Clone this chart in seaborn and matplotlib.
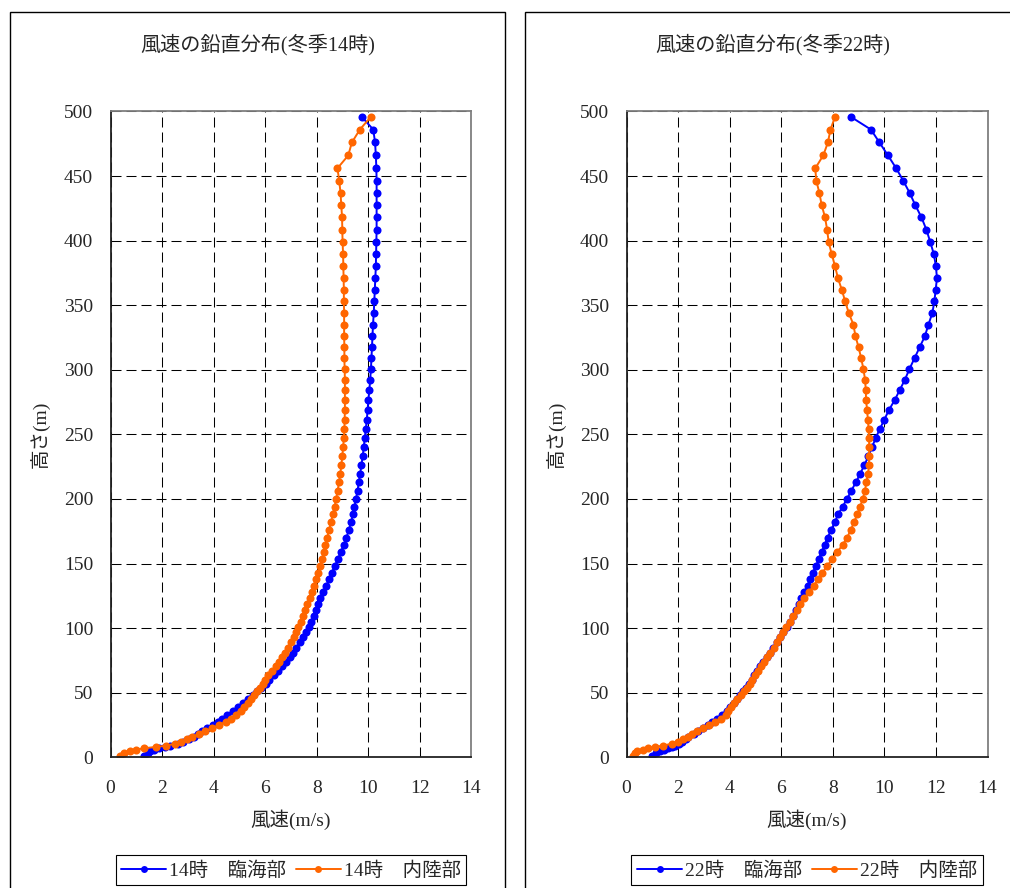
import numpy as np
import pandas as pd
import seaborn as sns
import matplotlib
matplotlib.use("Agg")
import matplotlib.pyplot as plt
from matplotlib.lines import Line2D
from matplotlib.patches import Rectangle

# ---------------- data ----------------
heights = [1, 3, 4.5, 6, 7, 8, 9, 10.5, 12, 14,
           16, 18, 20, 22.5, 25, 27.5, 30, 33, 36, 39,
           42, 45, 48, 51, 54, 57, 60, 63.5, 67, 70.5,
           74, 77.5, 81, 85, 89, 93, 97, 101, 105, 109.5,
           114, 118.5, 123, 128, 133, 138, 143, 148, 153.5, 159,
           164.5, 170, 176, 182, 188, 194, 200, 206.5, 213, 219.5,
           226, 233, 240, 247, 254, 261.5, 269, 276.5, 284.5, 292.5,
           300.5, 309, 317.5, 326, 335, 344, 353, 362, 371, 380,
           389.5, 399, 408.5, 418, 427.5, 437, 446.5, 456, 466, 476,
           486, 496]

# 14時 臨海部 (left, blue)
speed_14_coast = [1.3, 1.45, 1.55, 1.68, 1.88, 2.1, 2.3, 2.6, 2.82, 3.05,
                  3.25, 3.4, 3.56, 3.76, 3.98, 4.16, 4.33, 4.53, 4.74, 4.96,
                  5.14, 5.34, 5.52, 5.68, 5.85, 6.02, 6.16, 6.33, 6.49, 6.65,
                  6.8, 6.95, 7.08, 7.21, 7.34, 7.46, 7.57, 7.68, 7.78, 7.88,
                  7.96, 8.05, 8.14, 8.25, 8.37, 8.48, 8.58, 8.7, 8.82, 8.93,
                  9.05, 9.15, 9.24, 9.33, 9.4, 9.46, 9.52, 9.58, 9.63, 9.68,
                  9.73, 9.78, 9.82, 9.86, 9.9, 9.94, 9.97, 10.0, 10.04, 10.07,
                  10.1, 10.12, 10.14, 10.16, 10.18, 10.21, 10.23, 10.25, 10.27, 10.29,
                  10.3, 10.31, 10.32, 10.32, 10.32, 10.32, 10.32, 10.31, 10.29, 10.26,
                  10.19, 9.74]

# 14時 内陸部 (left, orange)
speed_14_inland = [0.37, 0.52, 0.74, 1.0, 1.3, 1.75, 2.15, 2.5, 2.72, 2.95,
                   3.18, 3.42, 3.66, 3.95, 4.22, 4.46, 4.68, 4.87, 5.05, 5.18,
                   5.32, 5.45, 5.58, 5.7, 5.8, 5.9, 5.98, 6.12, 6.28, 6.42,
                   6.55, 6.67, 6.78, 6.88, 6.99, 7.1, 7.2, 7.28, 7.37, 7.46,
                   7.54, 7.63, 7.72, 7.8, 7.88, 7.96, 8.04, 8.12, 8.2, 8.27,
                   8.33, 8.4, 8.48, 8.55, 8.62, 8.69, 8.75, 8.81, 8.86, 8.91,
                   8.95, 8.99, 9.02, 9.05, 9.07, 9.08, 9.09, 9.09, 9.09, 9.09,
                   9.08, 9.07, 9.07, 9.06, 9.06, 9.06, 9.05, 9.05, 9.04, 9.03,
                   9.02, 9.0, 8.99, 8.98, 8.95, 8.92, 8.87, 8.8, 9.22, 9.36,
                   9.67, 10.1]

# 22時 臨海部 (right, blue)
speed_22_coast = [0.98, 1.15, 1.3, 1.45, 1.6, 1.75, 1.9, 2.05, 2.15, 2.3,
                  2.4, 2.6, 2.78, 2.98, 3.15, 3.32, 3.5, 3.7, 3.88, 4.03,
                  4.15, 4.28, 4.4, 4.52, 4.63, 4.74, 4.85, 4.96, 5.07, 5.19,
                  5.31, 5.43, 5.55, 5.69, 5.82, 5.95, 6.08, 6.22, 6.34, 6.47,
                  6.58, 6.68, 6.77, 6.9, 7.02, 7.12, 7.22, 7.35, 7.45, 7.57,
                  7.68, 7.8, 7.93, 8.08, 8.2, 8.38, 8.55, 8.72, 8.9, 9.06,
                  9.22, 9.38, 9.52, 9.66, 9.82, 10.0, 10.18, 10.4, 10.6, 10.8,
                  10.97, 11.17, 11.37, 11.57, 11.71, 11.86, 11.94, 11.99, 12.04, 12.0,
                  11.92, 11.78, 11.63, 11.44, 11.2, 10.98, 10.73, 10.46, 10.14, 9.81,
                  9.48, 8.69]

# 22時 内陸部 (right, orange)
speed_22_inland = [0.24, 0.33, 0.42, 0.65, 0.85, 1.1, 1.4, 1.75, 1.98, 2.2,
                   2.38, 2.55, 2.72, 2.98, 3.2, 3.42, 3.65, 3.85, 3.95, 4.06,
                   4.18, 4.3, 4.43, 4.56, 4.66, 4.78, 4.88, 4.99, 5.1, 5.22,
                   5.34, 5.45, 5.58, 5.72, 5.84, 5.95, 6.08, 6.2, 6.33, 6.46,
                   6.6, 6.73, 6.9, 7.08, 7.26, 7.43, 7.6, 7.78, 7.98, 8.18,
                   8.38, 8.55, 8.7, 8.82, 8.95, 9.06, 9.16, 9.25, 9.3, 9.37,
                   9.4, 9.41, 9.41, 9.41, 9.39, 9.36, 9.33, 9.29, 9.28, 9.25,
                   9.19, 9.1, 9.0, 8.88, 8.8, 8.62, 8.48, 8.35, 8.2, 8.09,
                   7.96, 7.84, 7.78, 7.7, 7.57, 7.48, 7.36, 7.32, 7.63, 7.81,
                   7.91, 8.09]

titles = ["風速の鉛直分布(冬季14時)", "風速の鉛直分布(冬季22時)"]
series_labels = [["14時　臨海部", "14時　内陸部"], ["22時　臨海部", "22時　内陸部"]]
series_values = [[speed_14_coast, speed_14_inland], [speed_22_coast, speed_22_inland]]
x_ticks = [0, 2, 4, 6, 8, 10, 12, 14]
y_ticks = [0, 50, 100, 150, 200, 250, 300, 350, 400, 450, 500]
xlabel = "風速(m/s)"
ylabel = "高さ(m)"
colors = ["#0000FF", "#FF6600"]

# ---------------- styling ----------------
sns.set_style("white")
TXT = ["Liberation Serif", "Noto Sans CJK JP", "DejaVu Sans"]
plt.rcParams["font.family"] = TXT

W, H = 1010, 888
fig = plt.figure(figsize=(W / 100, H / 100), dpi=100)

# panel frames
fig.add_artist(Rectangle((10 / W, -0.05), 495 / W, 1.05 - 12 / H, transform=fig.transFigure,
                         fill=False, edgecolor="black", linewidth=1.0))
fig.add_artist(Rectangle((525 / W, -0.05), 0.6, 1.05 - 12 / H, transform=fig.transFigure,
                         fill=False, edgecolor="black", linewidth=1.0))

ax_lefts = [110.5, 626.5]
ax_w = 361.0
ax_top, ax_bot = 111.5, 757.3
panel_centers = [257.5, 772.5]
MS = 5.8
LW = 1.4

for i in range(2):
    ax = fig.add_axes([ax_lefts[i] / W, (H - ax_bot) / H, ax_w / W, (ax_bot - ax_top) / H])
    frames = []
    for lab, vals in zip(series_labels[i], series_values[i]):
        frames.append(pd.DataFrame({"風速": vals, "高さ": heights, "系列": lab}))
    df = pd.concat(frames, ignore_index=True)
    pal = dict(zip(series_labels[i], colors))
    sns.lineplot(data=df, x="風速", y="高さ", hue="系列", hue_order=series_labels[i],
                 palette=pal, sort=False, estimator=None, marker="o", markersize=MS,
                 markeredgewidth=0, linewidth=LW, ax=ax, legend=False)

    ax.set_xlim(0, 14)
    ax.set_ylim(0, 500)
    ax.set_xticks(x_ticks)
    ax.set_yticks(y_ticks)
    ax.set_xticklabels([str(t) for t in x_ticks], fontsize=14, family=TXT)
    ax.set_yticklabels([str(t) for t in y_ticks], fontsize=14, family=TXT)
    ax.tick_params(axis="both", length=0)
    ax.tick_params(axis="x", pad=16.5)
    ax.tick_params(axis="y", pad=12.5)
    ax.grid(True, color="black", linewidth=0.75, linestyle=(0, (9.6, 4.8)))
    ax.set_axisbelow(True)
    for s in ["left", "bottom"]:
        ax.spines[s].set_color("#222222")
        ax.spines[s].set_linewidth(1.3)
    for s in ["top", "right"]:
        ax.spines[s].set_color("#7f7f7f")
        ax.spines[s].set_linewidth(1.3)

    ax.set_xlabel(xlabel, fontsize=14, family=TXT)
    ax.set_ylabel(ylabel, fontsize=14, family=TXT)
    ax.xaxis.set_label_coords(0.5, -0.08)
    ax.yaxis.set_label_coords(-0.168, 0.5)

    handles = [Line2D([], [], color=c, marker="o", markersize=MS - 0.8, markeredgewidth=0,
                      linewidth=LW) for c in colors]
    leg = ax.legend(handles, series_labels[i], loc="center", bbox_to_anchor=(0.5, -0.175),
                    ncol=2, frameon=True, fancybox=False, framealpha=1, edgecolor="black",
                    prop={"family": TXT, "size": 14}, handlelength=2.3, handletextpad=0.15,
                    columnspacing=0.5, borderpad=0.3, borderaxespad=0)
    leg.get_frame().set_linewidth(0.8)

    fig.text(panel_centers[i] / W, 1 - 45 / H, titles[i], ha="center", va="center",
             fontsize=14.5, family=TXT)

fig.savefig("out.png", dpi=100)
